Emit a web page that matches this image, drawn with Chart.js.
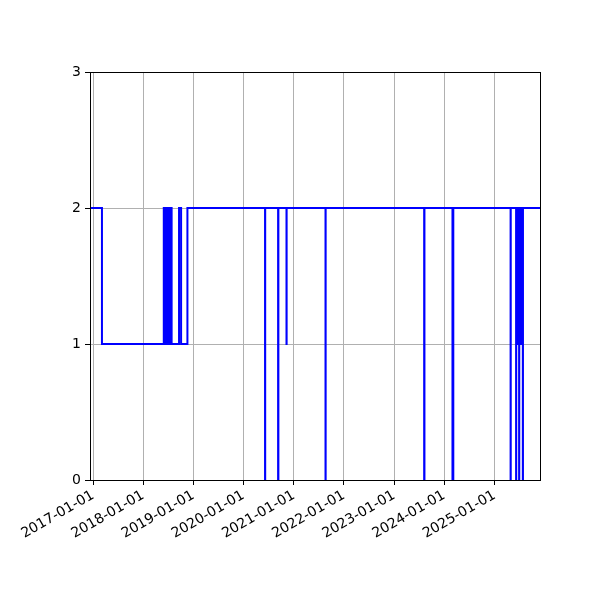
<!DOCTYPE html>
<html lang="en">
    <head>
        <meta charset="utf-8" />
        <script src="https://cdn.jsdelivr.net/npm/chart.js@4/dist/chart.umd.min.js"></script>
        <title>Step chart</title>
        <style>
            body { margin: 0; background: #fff; }
        </style>
    </head>
    <body>
        <canvas id="steps" width="600" height="600"></canvas>
        <script>
            // each level holds from its date until the next date
            var changeDates = [
                "2016-12-10", "2017-03-07",
                "2018-05-31", "2018-06-02", "2018-06-04", "2018-06-06", "2018-06-08", "2018-06-10",
                "2018-06-12", "2018-06-14", "2018-06-16", "2018-06-18", "2018-06-20", "2018-06-22",
                "2018-06-24", "2018-06-26", "2018-06-28", "2018-06-30", "2018-07-02", "2018-07-04",
                "2018-07-06", "2018-07-08", "2018-07-10", "2018-07-12", "2018-07-14", "2018-07-16",
                "2018-07-18", "2018-07-20", "2018-07-22", "2018-07-24", "2018-07-26", "2018-07-27",
                "2018-09-19", "2018-10-04", "2018-11-19",
                "2020-06-06", "2020-06-07",
                "2020-09-09", "2020-09-11",
                "2020-11-09", "2020-11-10",
                "2021-08-20", "2021-08-21",
                "2023-08-08", "2023-08-10",
                "2024-03-01", "2024-03-07",
                "2025-04-28", "2025-04-29",
                "2025-06-07", "2025-06-08", "2025-06-10", "2025-06-12", "2025-06-14", "2025-06-16",
                "2025-06-18", "2025-06-20", "2025-06-22", "2025-06-24", "2025-06-26", "2025-06-28",
                "2025-06-29", "2025-06-30", "2025-07-02", "2025-07-04", "2025-07-06", "2025-07-08",
                "2025-07-10", "2025-07-12", "2025-07-14", "2025-07-16", "2025-07-18", "2025-07-20",
                "2025-07-22", "2025-07-24", "2025-07-26", "2025-07-27",
                "2025-11-28"
            ];
            var levels = [
                2, 1,
                2, 1, 2, 1, 2, 1,
                2, 1, 2, 1, 2, 1,
                2, 1, 2, 1, 2, 1,
                2, 1, 2, 1, 2, 1,
                2, 1, 2, 1, 2, 1,
                2, 1, 2,
                0, 2,
                0, 2,
                1, 2,
                0, 2,
                0, 2,
                0, 2,
                0, 2,
                0, 2, 1, 2, 1, 2,
                1, 2, 1, 2, 1, 2,
                0, 2, 1, 2, 1, 2,
                1, 2, 1, 2, 1, 2,
                1, 2, 0, 2,
                2
            ];
            var yearTicks = [
                "2017-01-01", "2018-01-01", "2019-01-01", "2020-01-01", "2021-01-01",
                "2022-01-01", "2023-01-01", "2024-01-01", "2025-01-01"
            ];
            var yTicks = [0, 1, 2, 3];

            var puntos = changeDates.map(function (d, i) {
                return { x: Date.parse(d), y: levels[i] };
            });

            var marco = {
                id: "marco",
                afterDraw: function (chart) {
                    var a = chart.chartArea, ctx = chart.ctx;
                    ctx.save();
                    ctx.strokeStyle = "#000";
                    ctx.lineWidth = 1;
                    ctx.strokeRect(Math.round(a.left) + 0.5, Math.round(a.top) + 0.5,
                        Math.round(a.right - a.left), Math.round(a.bottom - a.top));
                    ctx.restore();
                }
            };

            var fuente = { family: "DejaVu Sans", size: 14 };

            new Chart(document.getElementById("steps").getContext("2d"), {
                type: "line",
                data: {
                    datasets: [{
                        data: puntos,
                        borderColor: "#0000ff",
                        borderWidth: 2,
                        pointRadius: 0,
                        stepped: true,
                        fill: false,
                        clip: 0
                    }]
                },
                options: {
                    responsive: false,
                    animation: false,
                    devicePixelRatio: 1,
                    layout: { padding: { top: 72, right: 60, left: 0, bottom: 0 } },
                    plugins: { legend: { display: false }, tooltip: { enabled: false } },
                    scales: {
                        x: {
                            type: "linear",
                            min: Date.parse(changeDates[0]),
                            max: Date.parse(changeDates[changeDates.length - 1]),
                            afterBuildTicks: function (scale) {
                                scale.ticks = yearTicks.map(function (d) { return { value: Date.parse(d) }; });
                            },
                            afterFit: function (scale) { scale.height = 120; },
                            ticks: {
                                minRotation: 30,
                                maxRotation: 30,
                                autoSkip: false,
                                color: "#000",
                                font: fuente,
                                padding: 2,
                                callback: function (v) {
                                    return new Date(v).toISOString().slice(0, 10);
                                }
                            },
                            grid: { color: "#b0b0b0", lineWidth: 1, tickLength: 5, tickColor: "#000" },
                            border: { color: "#000", width: 1 }
                        },
                        y: {
                            min: 0,
                            max: 3,
                            afterBuildTicks: function (scale) {
                                scale.ticks = yTicks.map(function (v) { return { value: v }; });
                            },
                            afterFit: function (scale) { scale.width = 90; },
                            ticks: { color: "#000", font: fuente, padding: 4 },
                            grid: { color: "#b0b0b0", lineWidth: 1, tickLength: 5, tickColor: "#000" },
                            border: { color: "#000", width: 1 }
                        }
                    }
                },
                plugins: [marco]
            });
        </script>
    </body>
</html>
